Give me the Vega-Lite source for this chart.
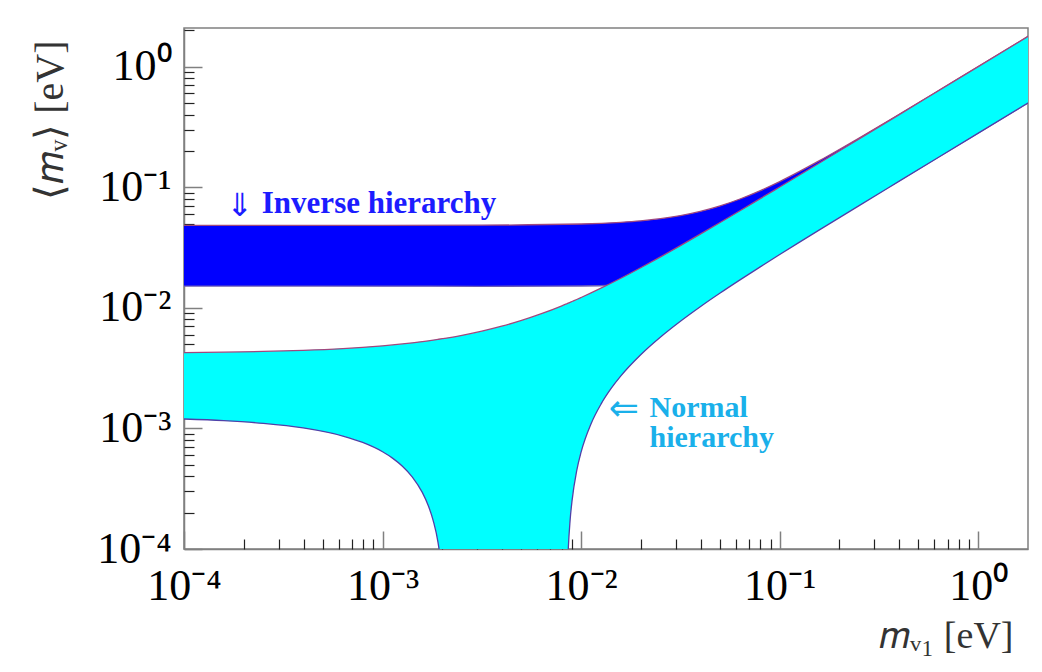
{
  "$schema": "https://vega.github.io/schema/vega-lite/v6.json",
  "width": 844,
  "height": 521,
  "autosize": {"type": "none"},
  "padding": {"left": 184, "top": 28, "right": 14, "bottom": 123},
  "background": "white",
  "config": {
    "view": {"stroke": "#808080", "strokeWidth": 1.5},
    "axis": {"grid": false}
  },
  "datasets": {
    "nh": [
      {"m1": 0.0001, "lo": 0.001197, "hi": 0.004246},
      {"m1": 0.0001585, "lo": 0.00116, "hi": 0.004283},
      {"m1": 0.0002512, "lo": 0.001101, "hi": 0.004344},
      {"m1": 0.0003981, "lo": 0.001009, "hi": 0.00444},
      {"m1": 0.000631, "lo": 0.0008647, "hi": 0.004594},
      {"m1": 0.0007943, "lo": 0.0007647, "hi": 0.004703},
      {"m1": 0.001, "lo": 0.0006402, "hi": 0.004842},
      {"m1": 0.001122, "lo": 0.0005672, "hi": 0.004925},
      {"m1": 0.001259, "lo": 0.0004858, "hi": 0.00502},
      {"m1": 0.001413, "lo": 0.0003951, "hi": 0.005127},
      {"m1": 0.001585, "lo": 0.0002949, "hi": 0.005247},
      {"m1": 0.0017, "lo": 0.0002286, "hi": 0.005328},
      {"m1": 0.0018, "lo": 0.0001713, "hi": 0.005399},
      {"m1": 0.0019, "lo": 0.0001144, "hi": 0.005471},
      {"m1": 0.002, "lo": 0.0000577, "hi": 0.005543},
      {"m1": 0.00205, "lo": 0.0000297, "hi": 0.005579},
      {"m1": 0.0021, "lo": 0.000001, "hi": 0.005615},
      {"m1": 0.002512, "lo": 0.000001, "hi": 0.005916},
      {"m1": 0.003162, "lo": 0.000001, "hi": 0.006403},
      {"m1": 0.003981, "lo": 0.000001, "hi": 0.007037},
      {"m1": 0.005012, "lo": 0.000001, "hi": 0.007862},
      {"m1": 0.00631, "lo": 0.000001, "hi": 0.00894},
      {"m1": 0.007943, "lo": 0.000001, "hi": 0.01034},
      {"m1": 0.00836, "lo": 0.000001, "hi": 0.01071},
      {"m1": 0.0085, "lo": 0.0000546, "hi": 0.01083},
      {"m1": 0.0086, "lo": 0.0000942, "hi": 0.01092},
      {"m1": 0.0088, "lo": 0.0001735, "hi": 0.0111},
      {"m1": 0.009, "lo": 0.0002521, "hi": 0.01128},
      {"m1": 0.0095, "lo": 0.0004466, "hi": 0.01172},
      {"m1": 0.01, "lo": 0.000638, "hi": 0.01217},
      {"m1": 0.01122, "lo": 0.001094, "hi": 0.01328},
      {"m1": 0.01259, "lo": 0.001591, "hi": 0.01454},
      {"m1": 0.01413, "lo": 0.002133, "hi": 0.01597},
      {"m1": 0.01585, "lo": 0.002723, "hi": 0.01758},
      {"m1": 0.01995, "lo": 0.00408, "hi": 0.02148},
      {"m1": 0.02512, "lo": 0.005727, "hi": 0.02645},
      {"m1": 0.03162, "lo": 0.007736, "hi": 0.03277},
      {"m1": 0.03981, "lo": 0.01021, "hi": 0.04079},
      {"m1": 0.05012, "lo": 0.01326, "hi": 0.05094},
      {"m1": 0.0631, "lo": 0.01705, "hi": 0.06378},
      {"m1": 0.07943, "lo": 0.02176, "hi": 0.07999},
      {"m1": 0.1, "lo": 0.02765, "hi": 0.1005},
      {"m1": 0.1259, "lo": 0.03501, "hi": 0.1263},
      {"m1": 0.1585, "lo": 0.04425, "hi": 0.1588},
      {"m1": 0.2512, "lo": 0.0704, "hi": 0.2514},
      {"m1": 0.3981, "lo": 0.1117, "hi": 0.3982},
      {"m1": 0.631, "lo": 0.1772, "hi": 0.6311},
      {"m1": 1.0, "lo": 0.281, "hi": 1.0},
      {"m1": 1.8, "lo": 0.5058, "hi": 1.8}
    ],
    "ih": [
      {"m1": 0.0001, "lo": 0.01514, "hi": 0.04827},
      {"m1": 0.001, "lo": 0.01512, "hi": 0.0483},
      {"m1": 0.003162, "lo": 0.01508, "hi": 0.04845},
      {"m1": 0.01, "lo": 0.01516, "hi": 0.04952},
      {"m1": 0.01585, "lo": 0.01546, "hi": 0.05112},
      {"m1": 0.01995, "lo": 0.01577, "hi": 0.05259},
      {"m1": 0.02512, "lo": 0.01629, "hi": 0.05481},
      {"m1": 0.03162, "lo": 0.01711, "hi": 0.05813},
      {"m1": 0.03981, "lo": 0.01837, "hi": 0.063},
      {"m1": 0.05012, "lo": 0.02023, "hi": 0.07},
      {"m1": 0.0631, "lo": 0.0229, "hi": 0.07983},
      {"m1": 0.07943, "lo": 0.0266, "hi": 0.09329},
      {"m1": 0.1, "lo": 0.0316, "hi": 0.1113},
      {"m1": 0.1259, "lo": 0.03821, "hi": 0.1351},
      {"m1": 0.1585, "lo": 0.04681, "hi": 0.1659},
      {"m1": 0.2512, "lo": 0.07204, "hi": 0.2559},
      {"m1": 0.3981, "lo": 0.1128, "hi": 0.4011},
      {"m1": 0.631, "lo": 0.1779, "hi": 0.6329},
      {"m1": 1.0, "lo": 0.2814, "hi": 1.001},
      {"m1": 1.8, "lo": 0.506, "hi": 1.801}
    ]
  },
  "resolve": {"axis": {"x": "independent", "y": "independent"}},
  "layer": [
    {
      "data": {"name": "ih"},
      "mark": {"type": "area", "color": "#0000ff", "opacity": 1, "clip": true, "interpolate": "monotone"},
      "encoding": {
        "x": {"field": "m1", "type": "quantitative",
          "scale": {"type": "log", "domain": [0.0001, 1.78], "nice": false},
          "axis": {
            "orient": "bottom",
            "values": [0.0001, 0.001, 0.01, 0.1, 1],
            "labelExpr": "datum.value == 1 ? '10⁰' : datum.value == 0.1 ? '10⁻¹' : datum.value == 0.01 ? '10⁻²' : datum.value == 0.001 ? '10⁻³' : '10⁻⁴'",
            "tickSize": -18, "tickColor": "#808080", "tickWidth": 1.5,
            "domainColor": "#808080", "domainWidth": 1.5,
            "labelFont": "Liberation Serif", "labelFontSize": 44, "labelColor": "#000000",
            "labelBaseline": "alphabetic", "labelPadding": 68, "labelFlush": false, "labelOverlap": false,
            "title": "𝑚ᵥ₁ [eV]", "titleFont": "Liberation Serif", "titleFontSize": 38, "titleFontWeight": "normal",
            "titleColor": "#333333", "titleX": 829, "titleY": 98, "titleAlign": "right", "titleBaseline": "alphabetic"
          }
        },
        "y": {"field": "hi", "type": "quantitative",
          "scale": {"type": "log", "domain": [0.0001, 2.09], "nice": false},
          "axis": {
            "orient": "left",
            "values": [0.0001, 0.001, 0.01, 0.1, 1],
            "labelExpr": "datum.value == 1 ? '10⁰' : datum.value == 0.1 ? '10⁻¹' : datum.value == 0.01 ? '10⁻²' : datum.value == 0.001 ? '10⁻³' : '10⁻⁴'",
            "tickSize": -18, "tickColor": "#808080", "tickWidth": 1.5,
            "domainColor": "#808080", "domainWidth": 1.5,
            "labelFont": "Liberation Serif", "labelFontSize": 44, "labelColor": "#000000",
            "labelAlign": "right", "labelBaseline": "middle", "labelPadding": 31, "labelFlush": false, "labelOverlap": false,
            "title": "⟨𝑚ᵥ⟩ [eV]", "titleFont": "Liberation Serif", "titleFontSize": 40, "titleFontWeight": "normal",
            "titleColor": "#333333", "titleX": -134, "titleY": 12, "titleAngle": -90, "titleAlign": "right", "titleBaseline": "middle"
          }
        },
        "y2": {"field": "lo"}
      }
    },
    {
      "data": {"name": "ih"},
      "mark": {"type": "line", "color": "#a0487e", "strokeWidth": 1.3, "clip": true, "interpolate": "monotone"},
      "encoding": {
        "x": {"field": "m1", "type": "quantitative",
          "scale": {"type": "log", "domain": [0.0001, 1.78], "nice": false},
          "axis": {
            "orient": "bottom",
            "values": [0.0002, 0.0003, 0.0004, 0.0005, 0.0006, 0.0007, 0.0008, 0.0009, 0.002, 0.003, 0.004, 0.005, 0.006, 0.007, 0.008, 0.009, 0.02, 0.03, 0.04, 0.05, 0.06, 0.07, 0.08, 0.09, 0.2, 0.3, 0.4, 0.5, 0.6, 0.7, 0.8, 0.9],
            "tickSize": -10, "tickColor": "#222222", "tickWidth": 1.2,
            "domain": false, "labels": false, "title": null
          }
        },
        "y": {"field": "hi", "type": "quantitative",
          "scale": {"type": "log", "domain": [0.0001, 2.09], "nice": false},
          "axis": {
            "orient": "left",
            "values": [0.0002, 0.0003, 0.0004, 0.0005, 0.0006, 0.0007, 0.0008, 0.0009, 0.002, 0.003, 0.004, 0.005, 0.006, 0.007, 0.008, 0.009, 0.02, 0.03, 0.04, 0.05, 0.06, 0.07, 0.08, 0.09, 0.2, 0.3, 0.4, 0.5, 0.6, 0.7, 0.8, 0.9, 2],
            "tickSize": -10, "tickColor": "#222222", "tickWidth": 1.2,
            "domain": false, "labels": false, "title": null
          }
        }
      }
    },
    {
      "data": {"name": "ih"},
      "mark": {"type": "line", "color": "#6a5ab8", "strokeWidth": 1.3, "clip": true, "interpolate": "monotone"},
      "encoding": {
        "x": {"field": "m1", "type": "quantitative", "scale": {"type": "log", "domain": [0.0001, 1.78], "nice": false}, "axis": null},
        "y": {"field": "lo", "type": "quantitative", "scale": {"type": "log", "domain": [0.0001, 2.09], "nice": false}, "axis": null}
      }
    },
    {
      "data": {"name": "nh"},
      "mark": {"type": "area", "color": "#00ffff", "opacity": 1, "clip": true, "interpolate": "monotone"},
      "encoding": {
        "x": {"field": "m1", "type": "quantitative", "scale": {"type": "log", "domain": [0.0001, 1.78], "nice": false}, "axis": null},
        "y": {"field": "hi", "type": "quantitative", "scale": {"type": "log", "domain": [0.0001, 2.09], "nice": false}, "axis": null},
        "y2": {"field": "lo"}
      }
    },
    {
      "data": {"name": "nh"},
      "mark": {"type": "line", "color": "#a0487e", "strokeWidth": 1.3, "clip": true, "interpolate": "monotone"},
      "encoding": {
        "x": {"field": "m1", "type": "quantitative", "scale": {"type": "log", "domain": [0.0001, 1.78], "nice": false}, "axis": null},
        "y": {"field": "hi", "type": "quantitative", "scale": {"type": "log", "domain": [0.0001, 2.09], "nice": false}, "axis": null}
      }
    },
    {
      "data": {"name": "nh"},
      "mark": {"type": "line", "color": "#5040a8", "strokeWidth": 1.3, "clip": true, "interpolate": "monotone"},
      "encoding": {
        "x": {"field": "m1", "type": "quantitative", "scale": {"type": "log", "domain": [0.0001, 1.78], "nice": false}, "axis": null},
        "y": {"field": "lo", "type": "quantitative", "scale": {"type": "log", "domain": [0.0001, 2.09], "nice": false}, "axis": null}
      }
    },
    {
      "data": {"values": [{"m1": 0.000163, "v": 0.07, "t": "⇓"}]},
      "mark": {"type": "text", "align": "left", "baseline": "middle", "font": "DejaVu Sans", "fontSize": 32, "color": "#1c1cff"},
      "encoding": {
        "x": {"field": "m1", "type": "quantitative", "scale": {"type": "log", "domain": [0.0001, 1.78], "nice": false}, "axis": null},
        "y": {"field": "v", "type": "quantitative", "scale": {"type": "log", "domain": [0.0001, 2.09], "nice": false}, "axis": null},
        "text": {"field": "t"}
      }
    },
    {
      "data": {"values": [{"m1": 0.0002465, "v": 0.0612, "t": "Inverse hierarchy"}]},
      "mark": {"type": "text", "align": "left", "baseline": "alphabetic", "font": "Liberation Serif", "fontWeight": "bold", "fontSize": 31, "color": "#1c1cff"},
      "encoding": {
        "x": {"field": "m1", "type": "quantitative", "scale": {"type": "log", "domain": [0.0001, 1.78], "nice": false}, "axis": null},
        "y": {"field": "v", "type": "quantitative", "scale": {"type": "log", "domain": [0.0001, 2.09], "nice": false}, "axis": null},
        "text": {"field": "t"}
      }
    },
    {
      "data": {"values": [{"m1": 0.01379, "v": 0.001452, "t": "⇐"}]},
      "mark": {"type": "text", "align": "left", "baseline": "middle", "font": "DejaVu Sans", "fontSize": 36, "color": "#1ab0ea"},
      "encoding": {
        "x": {"field": "m1", "type": "quantitative", "scale": {"type": "log", "domain": [0.0001, 1.78], "nice": false}, "axis": null},
        "y": {"field": "v", "type": "quantitative", "scale": {"type": "log", "domain": [0.0001, 2.09], "nice": false}, "axis": null},
        "text": {"field": "t"}
      }
    },
    {
      "data": {"values": [{"m1": 0.0221, "v": 0.001253, "t": "Normal"}, {"m1": 0.0221, "v": 0.000706, "t": "hierarchy"}]},
      "mark": {"type": "text", "align": "left", "baseline": "alphabetic", "font": "Liberation Serif", "fontWeight": "bold", "fontSize": 30, "color": "#1ab0ea"},
      "encoding": {
        "x": {"field": "m1", "type": "quantitative", "scale": {"type": "log", "domain": [0.0001, 1.78], "nice": false}, "axis": null},
        "y": {"field": "v", "type": "quantitative", "scale": {"type": "log", "domain": [0.0001, 2.09], "nice": false}, "axis": null},
        "text": {"field": "t"}
      }
    }
  ]
}
